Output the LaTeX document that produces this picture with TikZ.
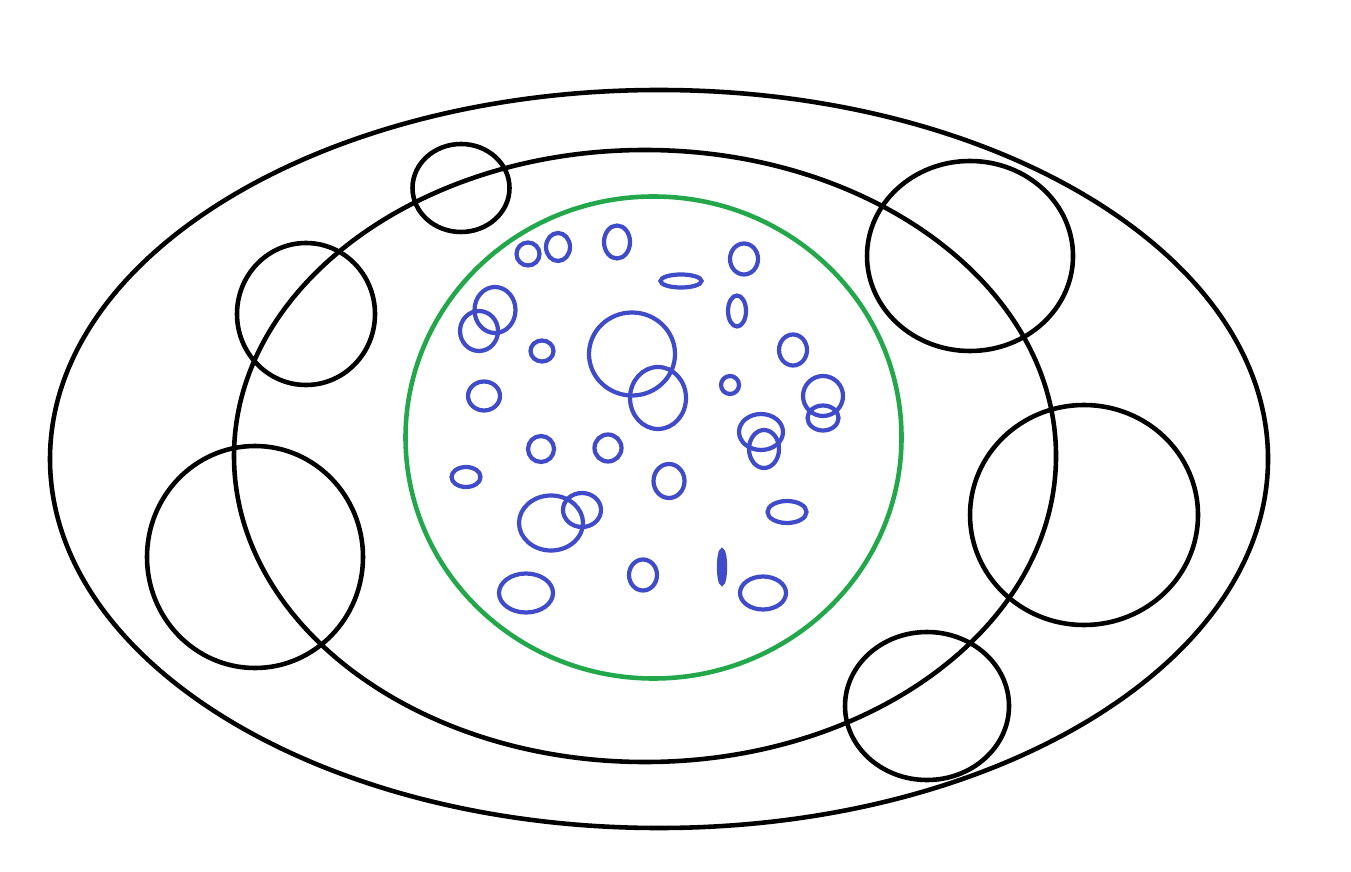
\documentclass[tikz,border=0pt]{standalone}
\usepackage{tikz}

\definecolor{ringgreen}{HTML}{22A84A}
\definecolor{bubbleblue}{HTML}{3F4BC8}

\tikzset{
  ring/.style={draw=black, line width=1.3pt},
  zone/.style={draw=ringgreen, line width=1.3pt},
  bubble/.style={draw=bubbleblue, line width=1.2pt}
}

\begin{document}
\begin{tikzpicture}[x=0.1mm,y=0.1mm]

\useasboundingbox (0,0) rectangle (1351,871);

% Outer shells
\draw[ring] (659,412) ellipse [x radius=609, y radius=369];
\draw[ring] (645,415) ellipse [x radius=411, y radius=306];
\draw[zone] (653.5,433.5) ellipse [x radius=248, y radius=241];

% Black circles on the shells
\foreach \cx/\cy/\rx/\ry in {461/188/48.5/44, 306/314/69/71, 255/557/108/111,
                             970/256/103/95, 1084/515/114/110, 927/706/82/74}
  \draw[ring] (\cx,871-\cy) ellipse [x radius=\rx, y radius=\ry];

% Blue bubbles inside the green circle
\foreach \cx/\cy/\rx/\ry in {528/254/11.5/11.5, 558/247/12/14, 617/242/13/16.5,
                             744/259/14/15.5, 681/281/20.5/6.5, 495/310/20.5/23,
                             479/331/19/20, 737/311/9/15.5, 542/351/11.5/10.5,
                             632/354/43/41.5, 658/398/28/31, 793/350/14/15.5,
                             730/385/9/9, 484/396/16/14.5, 823/396/20/20,
                             823/418/15.5/12.5, 761/432/22/18, 764/449/15/19,
                             541/449/13/13, 608/448/13.5/13.5, 466/477/14.5/10,
                             669/481/15.5/17, 551/523/32/27.5, 582/510/19/17,
                             787/512/19.5/11, 643/575/14/15.5, 526/593/27/19.5,
                             763/593/23/16.5}
  \draw[bubble] (\cx,871-\cy) ellipse [x radius=\rx, y radius=\ry];
\draw[bubble, fill=bubbleblue] (722,304) ellipse [x radius=3, y radius=16.5];

\end{tikzpicture}
\end{document}
